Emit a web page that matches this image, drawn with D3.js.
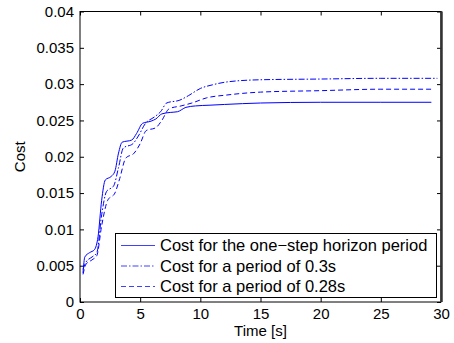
<!doctype html>
<html lang="en">
<head>
  <meta charset="utf-8">
  <script src="https://cdn.jsdelivr.net/npm/d3@7"></script>
  <style type="text/css">
    body { margin: 0; background-color: #ffffff; }
    text { font-family: "Liberation Sans", Arial, sans-serif; fill: #000; }
  </style>
</head>
<body>
<div id="container"></div>
<script type="text/javascript">

  // Cost for the one-step horizon period  [time (s), cost]
  var oneStep = [
    [0.25, 0.0040], [0.4, 0.0062], [0.8, 0.0068], [1.2, 0.0072], [1.5, 0.0090],
    [1.8, 0.0140], [2.1, 0.0168], [2.6, 0.0173], [2.9, 0.0180], [3.2, 0.0205],
    [3.5, 0.0220], [4.3, 0.0223], [4.7, 0.0232], [5.2, 0.0246], [5.9, 0.0249],
    [6.3, 0.0252], [6.8, 0.0259], [7.5, 0.0261], [8.1, 0.0262], [8.8, 0.0268],
    [9.6, 0.0270], [10.8, 0.0271], [12, 0.0272], [15, 0.0274], [20, 0.0275],
    [25, 0.0275], [29.2, 0.0275]
  ];

  // Cost for a period of 0.3s
  var period03 = [
    [0.25, 0.0045], [0.5, 0.0055], [1.0, 0.0062], [1.4, 0.0068], [1.8, 0.0120],
    [2.2, 0.0152], [2.8, 0.0160], [3.2, 0.0185], [3.6, 0.0212], [4.4, 0.0218],
    [4.9, 0.0230], [5.4, 0.0245], [6.2, 0.0255], [6.7, 0.0262], [7.2, 0.0274],
    [8.3, 0.0278], [9.0, 0.0284], [10, 0.0294], [11, 0.0299], [12.2, 0.0303],
    [15, 0.0306], [20, 0.0307], [25, 0.0308], [29.7, 0.0308]
  ];

  // Cost for a period of 0.28s
  var period028 = [
    [0.25, 0.0038], [0.5, 0.0052], [1.0, 0.0058], [1.4, 0.0064], [1.8, 0.0105],
    [2.3, 0.0140], [2.9, 0.0150], [3.3, 0.0170], [3.8, 0.0198], [4.5, 0.0205],
    [5.0, 0.0218], [5.5, 0.0236], [6.3, 0.0240], [6.8, 0.0250], [7.4, 0.0266],
    [8.4, 0.0270], [9.3, 0.0274], [10.5, 0.0281], [12.2, 0.0285], [15, 0.0289],
    [20, 0.0291], [25, 0.0293], [29.2, 0.0293]
  ];

  var xTicks = [0, 5, 10, 15, 20, 25, 30];
  var yTicks = [0, 0.005, 0.01, 0.015, 0.02, 0.025, 0.03, 0.035, 0.04];
  var yTickLabels = ["0", "0.005", "0.01", "0.015", "0.02", "0.025", "0.03", "0.035", "0.04"];

  var series = [
    { name: "Cost for the one\u2212step horizon period", data: oneStep, dash: null },
    { name: "Cost for a period of 0.3s", data: period03, dash: "6,2,1.5,2" },
    { name: "Cost for a period of 0.28s", data: period028, dash: "5,3" }
  ];

  // SVG dimensions and plot box
  var width = 454, height = 343;
  var plotL = 80, plotR = 441, plotT = 11.5, plotB = 302;

  var svg = d3.select("#container")
    .append("svg")
    .attr("width", width)
    .attr("height", height);

  var xScale = d3.scaleLinear().domain([0, 30]).range([plotL, plotR]);
  var yScale = d3.scaleLinear().domain([0, 0.04]).range([plotB, plotT]);

  // Axes (ticks point inward like MATLAB)
  svg.append("g")
    .attr("transform", "translate(0," + plotB + ")")
    .call(d3.axisBottom(xScale).tickValues(xTicks).tickSize(-4).tickPadding(6).tickFormat(d3.format("d")))
    .call(g => g.select(".domain").remove());
  svg.append("g")
    .attr("transform", "translate(0," + plotT + ")")
    .call(d3.axisTop(xScale).tickValues(xTicks).tickSize(-4).tickFormat(""))
    .call(g => g.select(".domain").remove());
  svg.append("g")
    .attr("transform", "translate(" + plotL + ",0)")
    .call(d3.axisLeft(yScale).tickValues(yTicks).tickSize(-4).tickPadding(6)
      .tickFormat(function(d, i) { return yTickLabels[i]; }))
    .call(g => g.select(".domain").remove());
  svg.append("g")
    .attr("transform", "translate(" + plotR + ",0)")
    .call(d3.axisRight(yScale).tickValues(yTicks).tickSize(-4).tickFormat(""))
    .call(g => g.select(".domain").remove());

  svg.selectAll(".tick line").attr("stroke", "#000");
  svg.selectAll(".tick text")
    .attr("font-family", "Liberation Sans, Arial, sans-serif")
    .attr("font-size", 15)
    .attr("fill", "#000");

  // Series lines
  var line = d3.line()
    .x(function(d) { return xScale(d[0]); })
    .y(function(d) { return yScale(d[1]); })
    .curve(d3.curveMonotoneX);

  svg.selectAll(".series")
    .data(series)
    .enter()
    .append("path")
    .attr("class", "series")
    .attr("d", function(d) { return line(d.data); })
    .attr("fill", "none")
    .attr("stroke", "#0000ff")
    .attr("stroke-width", 1)
    .attr("stroke-dasharray", function(d) { return d.dash; });

  // Frame
  svg.append("rect")
    .attr("x", plotL).attr("y", plotT)
    .attr("width", plotR - plotL).attr("height", plotB - plotT)
    .attr("fill", "none").attr("stroke", "#000").attr("stroke-width", 1);
  svg.append("line")
    .attr("x1", plotR + 0.5).attr("x2", plotR + 0.5)
    .attr("y1", plotT).attr("y2", plotB)
    .attr("stroke", "#333").attr("stroke-width", 2.5);

  // Legend
  var lg = svg.append("g");
  lg.append("rect")
    .attr("x", 115.5).attr("y", 233.5)
    .attr("width", 321).attr("height", 64)
    .attr("fill", "#fff").attr("stroke", "#000").attr("stroke-width", 1);
  var rows = lg.selectAll(".row")
    .data(series)
    .enter()
    .append("g")
    .attr("transform", function(d, i) { return "translate(0," + (245.5 + i * 20.5) + ")"; });
  rows.append("line")
    .attr("x1", 121).attr("x2", 155)
    .attr("stroke", "#4040ff")
    .attr("stroke-dasharray", function(d) { return d.dash; });
  rows.append("text")
    .attr("x", 160).attr("dy", "0.35em")
    .attr("font-size", 16.5)
    .text(function(d) { return d.name; });

  // Axis titles
  svg.append("text")
    .attr("x", (plotL + plotR) / 2).attr("y", 336)
    .attr("text-anchor", "middle").attr("font-size", 15)
    .text("Time [s]");
  svg.append("text")
    .attr("transform", "translate(25," + ((plotT + plotB) / 2) + ") rotate(-90)")
    .attr("text-anchor", "middle").attr("font-size", 15)
    .text("Cost");

</script>
</body>
</html>
